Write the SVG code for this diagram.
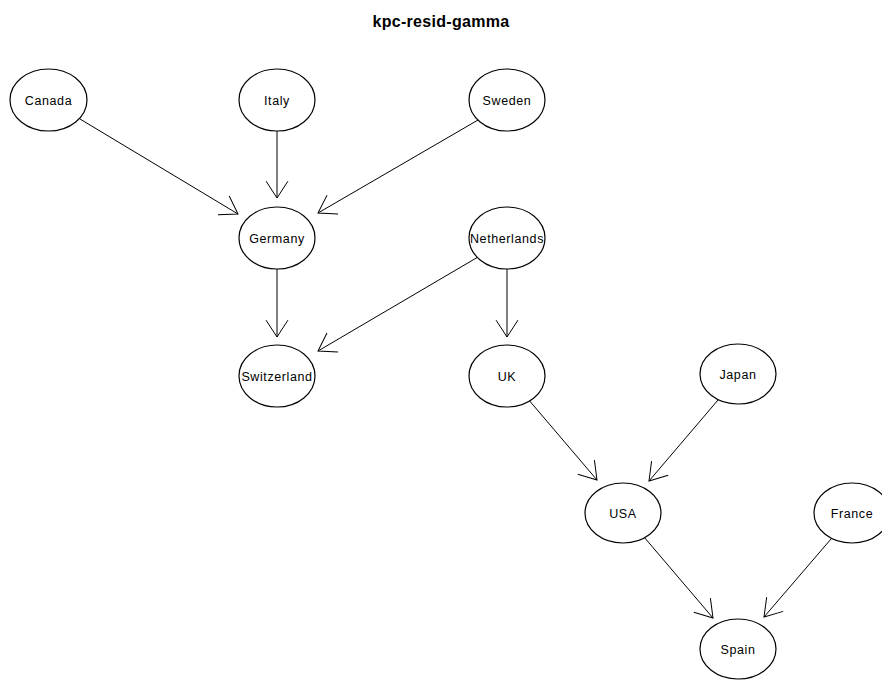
<svg xmlns="http://www.w3.org/2000/svg" width="882" height="683" viewBox="0 0 882 683">
<style>
.n ellipse{fill:#fff;stroke:#000;stroke-width:1.2}
.n text{font-family:"Liberation Sans",Arial,sans-serif;font-size:12.5px;letter-spacing:0.6px;text-anchor:middle;fill:#000}
.e line{stroke:#000;stroke-width:1;marker-end:url(#arr)}
.t{font-family:"Liberation Sans",Arial,sans-serif;font-size:16px;font-weight:bold;text-anchor:middle;letter-spacing:0.3px}
</style>
<defs>
<marker id="arr" markerUnits="userSpaceOnUse" orient="auto" markerWidth="40" markerHeight="40" refX="20" refY="20" viewBox="0 0 40 40" overflow="visible">
<path d="M3.2,9.1 L20,20 L3.2,30.9" fill="none" stroke="#000" stroke-width="1"/>
</marker>
</defs>
<rect width="882" height="683" fill="#fff"/>
<text class="t" x="441" y="27">kpc-resid-gamma</text>
<g class="e" id="edges">
<line x1="80" y1="119" x2="238" y2="214"/>
<line x1="277" y1="131" x2="277" y2="198"/>
<line x1="478" y1="120" x2="318" y2="213"/>
<line x1="277" y1="269" x2="277" y2="337"/>
<line x1="478" y1="257" x2="318" y2="351"/>
<line x1="507" y1="269" x2="507" y2="337"/>
<line x1="528" y1="399" x2="597" y2="480"/>
<line x1="718" y1="400" x2="649" y2="481"/>
<line x1="644" y1="537" x2="713" y2="618"/>
<line x1="831" y1="539" x2="764" y2="617"/>
</g>
<g class="n" id="Canada"><ellipse cx="48.5" cy="100" rx="38.5" ry="31"/><text x="48.5" y="104.5">Canada</text></g>
<g class="n" id="Italy"><ellipse cx="277" cy="100" rx="38" ry="31"/><text x="277" y="104.5">Italy</text></g>
<g class="n" id="Sweden"><ellipse cx="507" cy="100" rx="38" ry="31"/><text x="507" y="104.5">Sweden</text></g>
<g class="n" id="Germany"><ellipse cx="277" cy="238" rx="38" ry="31"/><text x="277" y="242.5">Germany</text></g>
<g class="n" id="Netherlands"><ellipse cx="507" cy="238" rx="38" ry="31"/><text x="507" y="242.5">Netherlands</text></g>
<g class="n" id="Switzerland"><ellipse cx="277" cy="376" rx="38" ry="31"/><text x="277" y="380.5">Switzerland</text></g>
<g class="n" id="UK"><ellipse cx="507" cy="376" rx="38" ry="31"/><text x="507" y="380.5">UK</text></g>
<g class="n" id="Japan"><ellipse cx="738" cy="374" rx="38" ry="30"/><text x="738" y="378.5">Japan</text></g>
<g class="n" id="USA"><ellipse cx="623" cy="513" rx="38" ry="30"/><text x="623" y="517.5">USA</text></g>
<g class="n" id="France"><ellipse cx="852" cy="513" rx="38" ry="30"/><text x="852" y="517.5">France</text></g>
<g class="n" id="Spain"><ellipse cx="738" cy="649" rx="38" ry="30"/><text x="738" y="653.5">Spain</text></g>
</svg>
